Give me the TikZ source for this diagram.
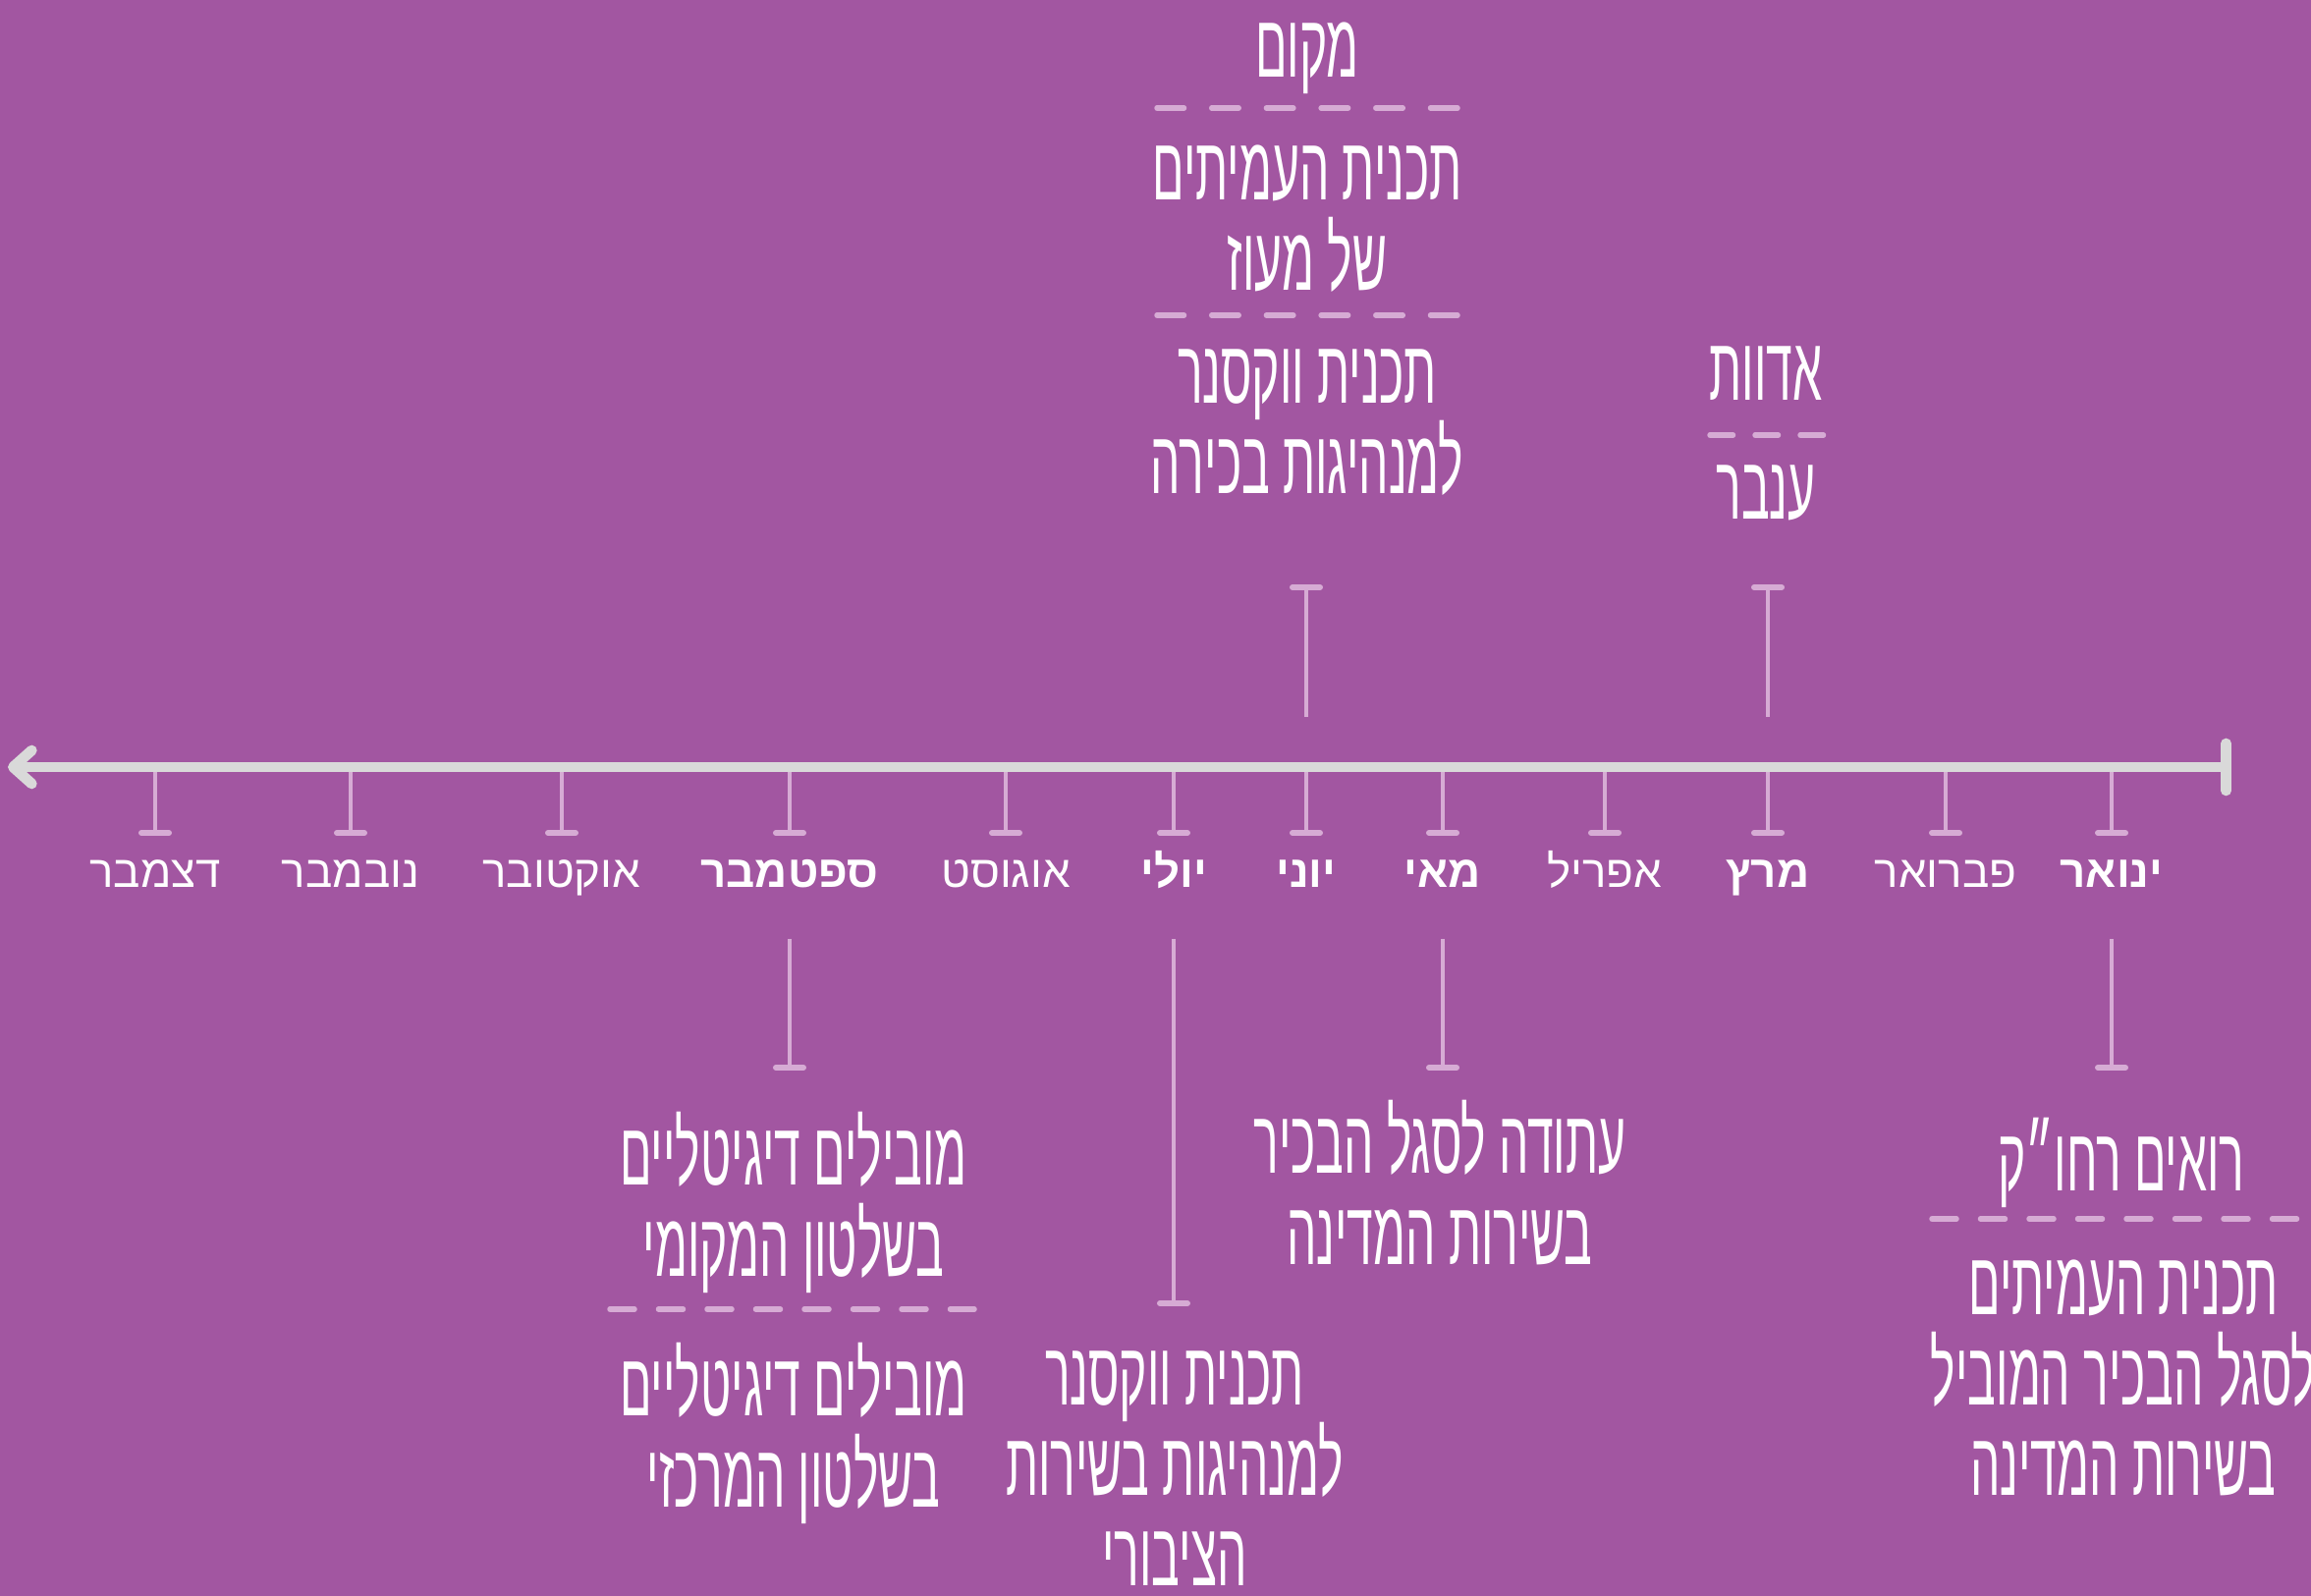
\documentclass[tikz,border=0pt]{standalone}
\usepackage{fontspec}
\usetikzlibrary{arrows.meta}
\TeXXeTstate=1
\newfontfamily\hebfont[Script=Hebrew,FakeStretch=0.525]{Liberation Sans}
\newfontfamily\monthfont[Script=Hebrew]{Liberation Sans}
\newcommand\heb[1]{\beginR #1\endR}
\definecolor{bgpurple}{RGB}{162,86,161}
\definecolor{axisgray}{RGB}{217,217,217}
\definecolor{tickpink}{RGB}{214,171,212}

\begin{document}
\begin{tikzpicture}[
      x=0.1mm, y=-0.1mm,
      month/.style ={anchor=base,inner sep=0pt,text=white,
        font=\monthfont\fontsize{13}{15}\selectfont},
      monthb/.style={month,font=\monthfont\bfseries\fontsize{13}{15}\selectfont},
      blurb/.style ={anchor=north,inner sep=0pt,text=white,align=center,
        font=\hebfont\fontsize{26}{26.2}\selectfont},
      tick/.style  ={draw=tickpink,line width=0.4mm,
        -{Bar[width=2.8mm,line width=0.6mm,round]}},
      link/.style  ={tick},
      sep/.style   ={draw=tickpink,line width=0.55mm,line cap=round,dash pattern=#1},
      sep/.default ={on 2.5mm off 2.45mm}
      ]
    \useasboundingbox (0,0) rectangle (2353,1625);
    \fill[bgpurple] (0,0) rectangle (2353,1625);
    % months and ticks
    \foreach \x/\m/\name/\wt in {2150/jan/ינואר/monthb, 1981/feb/פברואר/month,
        1800/mar/מרץ/monthb, 1634/apr/אפריל/month, 1469/may/מאי/monthb,
        1330/jun/יוני/monthb, 1195/jul/יולי/monthb, 1024/aug/אוגוסט/month,
        804/sep/ספטמבר/monthb, 572/oct/אוקטובר/month, 357/nov/נובמבר/month,
        158/dec/דצמבר/month}
    {
      \coordinate (t-\m) at (\x,781);
      \draw[tick] (t-\m) -- ++(0,70);
      \node[\wt] (\m) at (\x,904) {\heb{\name}};
    }
    \coordinate (tl) at (8,781);
    \coordinate (tr) at (2272,781);
    \draw[axisgray,line width=1.07mm,
      {Straight Barb[length=1.9mm,width=3.4mm,round]}-{Bar[width=4.8mm,round]}] (tl) -- (tr);

    % above the line
    \node[blurb] (jun-a) at (1331,22) {\heb{מקום}};
    \draw[sep={on 2.75mm off 2.82mm}] (1178,110) -- (1485,110);
    \node[blurb] (jun-b) at (1331,147) {\heb{תכנית העמיתים}\\\heb{של מעוז}};
    \draw[sep={on 2.75mm off 2.82mm}] (1178,321) -- (1485,321);
    \node[blurb] (jun-c) at (1331,355) {\heb{תכנית ווקסנר}\\\heb{למנהיגות בכירה}};
    \draw[link] (t-jun) ++(0,-51) -- ++(0,-135);

    \node[blurb] (mar-a) at (1798,352) {\heb{אדוות}};
    \draw[sep={on 2.35mm off 2.25mm}] (1741,443) -- (1857,443);
    \node[blurb] (mar-b) at (1798,473) {\heb{ענבר}};
    \draw[link] (t-mar) ++(0,-51) -- ++(0,-135);

    % below the line
    \draw[link] (sep.base) ++(0,52) -- ++(0,134);
    \node[blurb] (sep-a) at (808,1132) {\heb{מובילים דיגיטליים}\\\heb{בשלטון המקומי}};
    \draw[sep] (621,1333) -- (992,1333);
    \node[blurb] (sep-b) at (808,1367) {\heb{מובילים דיגיטליים}\\\heb{בשלטון המרכזי}};

    \draw[link] (jul.base) ++(0,52) -- ++(0,374);
    \node[blurb] (jul-a) at (1196,1375) {\heb{תכנית ווקסנר}\\\heb{למנהיגות בשירות}\\\heb{הציבורי}};

    \draw[link] (may.base) ++(0,52) -- ++(0,134);
    \node[blurb] (may-a) at (1466,1120) {\heb{עתודה לסגל הבכיר}\\\heb{בשירות המדינה}};

    \draw[link] (jan.base) ++(0,52) -- ++(0,134);
    \node[blurb] (jan-a) at (2160,1138) {\heb{רואים רחו״ק}};
    \draw[sep] (1967,1241) -- (2340,1241);
    \node[blurb] (jan-b) at (2162,1282) {\heb{תכנית העמיתים}\\\heb{לסגל הבכיר המוביל}\\\heb{בשירות המדינה}};
\end{tikzpicture}
\end{document}
